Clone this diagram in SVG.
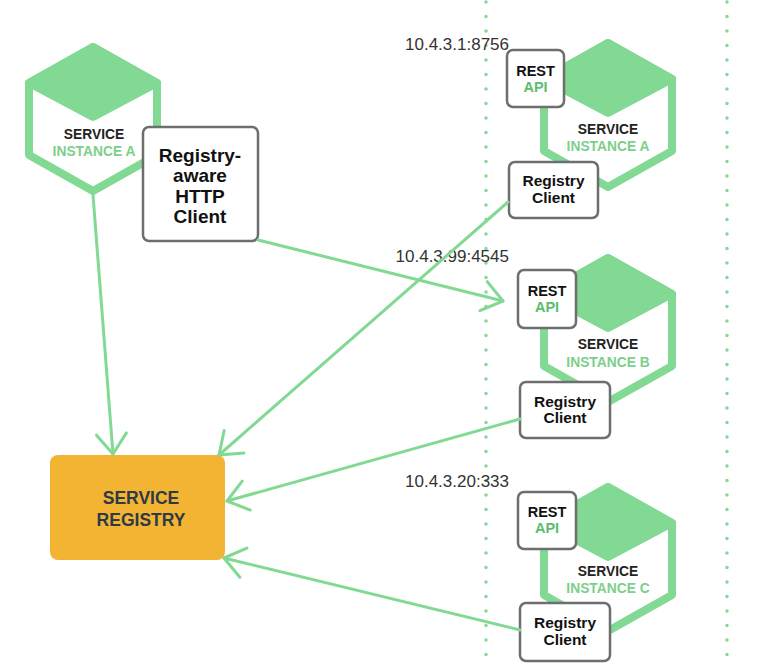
<svg xmlns="http://www.w3.org/2000/svg" xmlns:xlink="http://www.w3.org/1999/xlink" width="775" height="668" viewBox="0 0 775 668">
<style>
.dots{stroke:#82d993;stroke-width:3.5;stroke-linecap:round;stroke-dasharray:0 14.5;fill:none}
.hex{fill:#fff;stroke:#82d993;stroke-width:8;stroke-linejoin:round}
.roof{fill:#82d993;stroke:#82d993;stroke-width:8;stroke-linejoin:round}
.box{fill:#fff;stroke:#6e6e6e;stroke-width:2.5}
.t{font-family:"Liberation Sans",Arial,sans-serif;font-weight:bold;text-anchor:middle}
.svc{font-size:13.8px;fill:#222}
.inst{font-size:13.8px;fill:#7ccf8a}
.rest{font-size:14.5px;fill:#111}
.api{font-size:14.5px;fill:#5cbd6c}
.rc{font-size:15.5px;fill:#111}
.ip{font-family:"Liberation Sans",Arial,sans-serif;font-size:17px;fill:#333;text-anchor:end}
.conn{stroke:#82d993;stroke-width:3;fill:none;stroke-linecap:round}
.arrowhead{stroke:#82d993;stroke-width:3;fill:none;stroke-linecap:round;stroke-linejoin:round}
</style>
<defs>
<g id="hexshape">
<polygon class="hex" points="0,-72 64,-36 64,36 0,72 -64,36 -64,-36"/>
<polygon class="roof" points="0,-72 64,-36 0,-2 -64,-36"/>
</g>
<marker id="arr" markerUnits="userSpaceOnUse" viewBox="-25 -20 30 40" markerWidth="30" markerHeight="40" refX="0" refY="0" orient="auto" overflow="visible">
<path class="arrowhead" d="M-20,-15 L0,0 L-20,15"/>
</marker>
</defs>

<g id="dotted-lines">
<line class="dots" x1="486" y1="2" x2="486" y2="668"/>
<line class="dots" x1="727" y1="2" x2="727" y2="668"/>
</g>

<g id="ip-labels">
<text class="ip" x="509" y="50">10.4.3.1:8756</text>
<text class="ip" x="509" y="262">10.4.3.99:4545</text>
<text class="ip" x="509" y="487">10.4.3.20:333</text>
</g>

<g id="service-instance-a-left">
<use xlink:href="#hexshape" href="#hexshape" x="93" y="119"/>
<text class="t svc" x="94" y="139">SERVICE</text>
<text class="t inst" x="94" y="156">INSTANCE A</text>
</g>

<g id="registry-aware-client">
<rect class="box" x="143" y="127" width="115" height="114" rx="6"/>
<text class="t" x="200" y="162" style="font-size:19px;fill:#111">Registry-</text>
<text class="t" x="200" y="182" style="font-size:19px;fill:#111">aware</text>
<text class="t" x="200" y="203" style="font-size:19px;fill:#111">HTTP</text>
<text class="t" x="200" y="223" style="font-size:19px;fill:#111">Client</text>
</g>

<g id="service-registry">
<rect x="50" y="455" width="175" height="105" rx="8" fill="#f3b434"/>
<text class="t" x="141" y="504" style="font-size:17.5px;fill:#2e3a44">SERVICE</text>
<text class="t" x="141" y="526" style="font-size:17.5px;fill:#2e3a44">REGISTRY</text>
</g>

<g id="service-instance-a">
<use xlink:href="#hexshape" href="#hexshape" x="608" y="115"/>
<text class="t svc" x="608" y="134">SERVICE</text>
<text class="t inst" x="608" y="151">INSTANCE A</text>
<rect class="box" x="507" y="50" width="57" height="57" rx="6"/>
<text class="t rest" x="535.5" y="76">REST</text>
<text class="t api" x="535.5" y="92">API</text>
<rect class="box" x="509" y="162" width="89" height="56" rx="6"/>
<text class="t rc" x="553.5" y="186">Registry</text>
<text class="t rc" x="553.5" y="203">Client</text>
</g>

<g id="service-instance-b">
<use xlink:href="#hexshape" href="#hexshape" x="608" y="330"/>
<text class="t svc" x="608" y="349">SERVICE</text>
<text class="t inst" x="608" y="367">INSTANCE B</text>
<rect class="box" x="518" y="270" width="58" height="58" rx="6"/>
<text class="t rest" x="547" y="296">REST</text>
<text class="t api" x="547" y="312">API</text>
<rect class="box" x="520" y="382" width="90" height="56" rx="6"/>
<text class="t rc" x="565" y="407">Registry</text>
<text class="t rc" x="565" y="423">Client</text>
</g>

<g id="service-instance-c">
<use xlink:href="#hexshape" href="#hexshape" x="608" y="559"/>
<text class="t svc" x="608" y="576">SERVICE</text>
<text class="t inst" x="608" y="593">INSTANCE C</text>
<rect class="box" x="518" y="492" width="58" height="57" rx="6"/>
<text class="t rest" x="547" y="517">REST</text>
<text class="t api" x="547" y="533">API</text>
<rect class="box" x="520" y="603" width="90" height="58" rx="6"/>
<text class="t rc" x="565" y="628">Registry</text>
<text class="t rc" x="565" y="645">Client</text>
</g>

<g id="connectors">
<line class="conn" x1="93" y1="195" x2="113" y2="454" marker-end="url(#arr)"/>
<line class="conn" x1="508" y1="202" x2="219" y2="455" marker-end="url(#arr)"/>
<line class="conn" x1="520" y1="419" x2="227" y2="501" marker-end="url(#arr)"/>
<line class="conn" x1="520" y1="630" x2="224" y2="558" marker-end="url(#arr)"/>
<line class="conn" x1="258" y1="240" x2="503" y2="301" marker-end="url(#arr)"/>
</g>
</svg>
